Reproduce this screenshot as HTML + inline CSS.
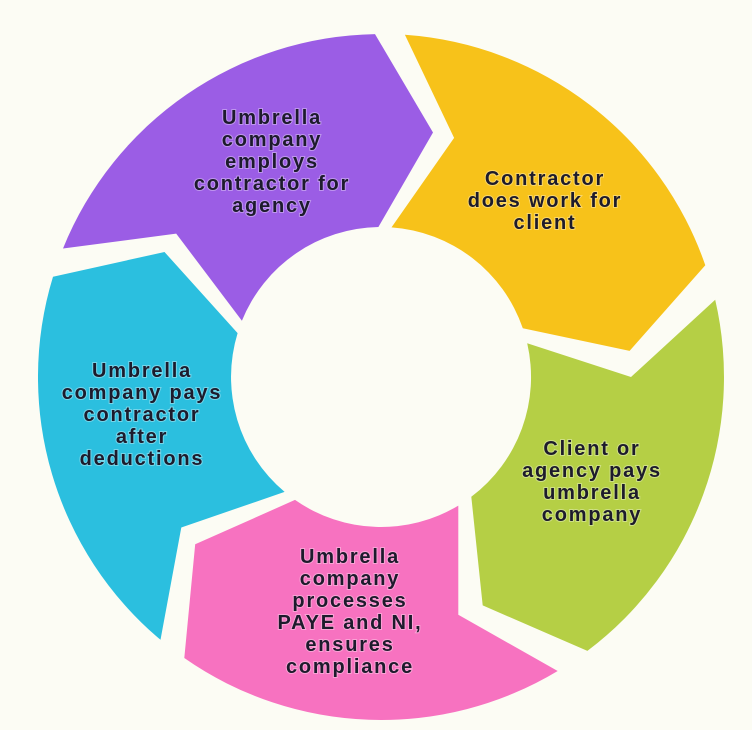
<!DOCTYPE html>
<html><head><meta charset="utf-8"><style>
html,body{margin:0;padding:0;background:#fcfcf4;}
svg{display:block}
text{font-family:"Liberation Sans",sans-serif;font-weight:bold;font-size:20px;fill:#1d1b2c;letter-spacing:1.8px;text-anchor:middle;dominant-baseline:central;paint-order:stroke;stroke:rgba(255,255,255,0.35);stroke-width:2px}
</style></head><body>
<svg id="s" width="752" height="730" viewBox="0 0 752 730">
<rect width="752" height="730" fill="#fcfcf4"/>
<g id="g"></g>
<text x="272" y="118">Umbrella</text>
<text x="272" y="140">company</text>
<text x="272" y="162">employs</text>
<text x="272" y="184">contractor for</text>
<text x="272" y="206">agency</text>
<text x="545" y="179">Contractor</text>
<text x="545" y="201">does work for</text>
<text x="545" y="223">client</text>
<text x="592" y="449">Client or</text>
<text x="592" y="471">agency pays</text>
<text x="592" y="493">umbrella</text>
<text x="592" y="515">company</text>
<text x="350" y="557">Umbrella</text>
<text x="350" y="579">company</text>
<text x="350" y="601">processes</text>
<text x="350" y="623">PAYE and NI,</text>
<text x="350" y="645">ensures</text>
<text x="350" y="667">compliance</text>
<text x="142" y="371">Umbrella</text>
<text x="142" y="393">company pays</text>
<text x="142" y="415">contractor</text>
<text x="142" y="437">after</text>
<text x="142" y="459">deductions</text>
</svg>
<script>
(function(){
var cx=381,cy=377,R=343,r=150,M=250,off=13;
function p(a,rad){var t=a*Math.PI/180;return (cx+rad*Math.sin(t)).toFixed(1)+","+(cy-rad*Math.cos(t)).toFixed(1);}
var segs=[[292,359,"#9b5de5"],[4,71,"#f7c21a"],[77,143,"#b5cf45"],[149,215,"#f772c0"],[220,287,"#2bbfdf"]];
var h="";
segs.forEach(function(s){
 var a=s[0],b=s[1];if(b<a)b+=360;
 var d="M"+p(a,R)+" A"+R+","+R+" 0 0 1 "+p(b,R)+" L"+p(b+off,M)+" L"+p(b,r)+" A"+r+","+r+" 0 0 0 "+p(a,r)+" L"+p(a+off,M)+" Z";
 h+='<path d="'+d+'" fill="'+s[2]+'"/>';
});
document.getElementById("g").innerHTML=h;
})();
</script>
</body></html>
